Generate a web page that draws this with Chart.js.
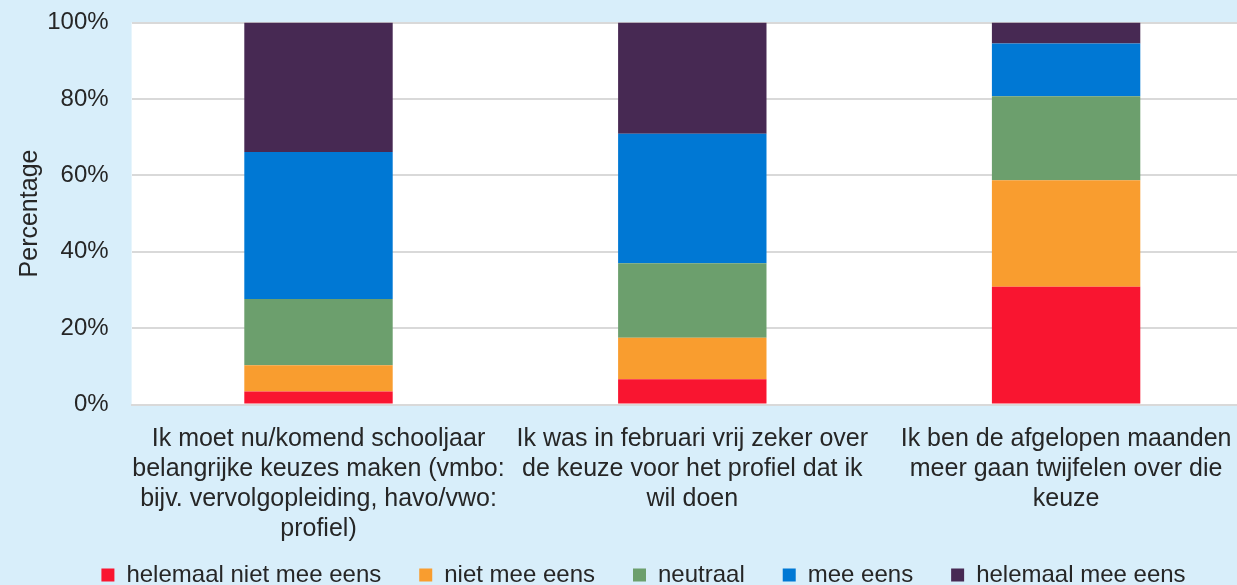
<!DOCTYPE html>
<html lang="nl">
<head>
<meta charset="utf-8">
<title>Keuzes</title>
<script src="https://cdn.jsdelivr.net/npm/chart.js@4/dist/chart.umd.min.js"></script>
<style>
  html, body {
    margin: 0;
    padding: 0;
    background: #d8eefa;
    overflow: hidden;
  }
  #wrap {
    width: 1237px;
    height: 585px;
    overflow: hidden;
  }
  #chart {
    display: block;
  }
</style>
</head>
<body>
<div id="wrap">
  <canvas id="chart" width="1287" height="614"></canvas>
</div>
<script>
// カテゴリ（複数行ラベル）
const categories = [
  ['Ik moet nu/komend schooljaar', 'belangrijke keuzes maken (vmbo:', 'bijv. vervolgopleiding, havo/vwo:', 'profiel)'],
  ['Ik was in februari vrij zeker over', 'de keuze voor het profiel dat ik', 'wil doen'],
  ['Ik ben de afgelopen maanden', 'meer gaan twijfelen over die', 'keuze']
];

// 系列名
const seriesLabels = ['helemaal niet mee eens', 'niet mee eens', 'neutraal', 'mee eens', 'helemaal mee eens'];

// 値（%）
const helemaalNietMeeEens = [3.4, 6.6, 30.8];
const nietMeeEens = [6.9, 10.9, 27.9];
const neutraal = [17.3, 19.5, 22.0];
const meeEens = [38.5, 33.9, 13.8];
const helemaalMeeEens = [33.9, 29.1, 5.5];

// 目盛り
const yTicks = [0, 20, 40, 60, 80, 100];

const seriesValues = [helemaalNietMeeEens, nietMeeEens, neutraal, meeEens, helemaalMeeEens];
const seriesColors = ['#f91530', '#f99d2f', '#6c9f6d', '#0078d4', '#472953'];

const FONT = '"Liberation Sans", Arial, Helvetica, sans-serif';
const TEXT_COLOR = '#262626';

// プロットエリアを白で塗る
const plotBackground = {
  id: 'plotBackground',
  beforeDraw(chart) {
    const { ctx, chartArea } = chart;
    ctx.save();
    ctx.fillStyle = '#ffffff';
    ctx.fillRect(chartArea.left, chartArea.top, chartArea.right - chartArea.left, chartArea.bottom - chartArea.top);
    ctx.restore();
  }
};

// 凡例の位置調整（元の図は右側が切れている）
const legendShift = {
  id: 'legendShift',
  afterLayout(chart) {
    const legend = chart.legend;
    legend.left += 17;
    legend.right += 17;
    legend.top = 525;
    legend.bottom = legend.top + legend.height;
  }
};

const datasets = seriesLabels.map((label, i) => ({
  label: label,
  data: seriesValues[i],
  backgroundColor: seriesColors[i],
  borderWidth: 0,
  barPercentage: 0.397,
  categoryPercentage: 1.0
}));

new Chart(document.getElementById('chart'), {
  type: 'bar',
  data: {
    labels: categories,
    datasets: datasets
  },
  options: {
    responsive: false,
    animation: false,
    layout: {
      padding: { top: 22.5, left: 0, right: 34, bottom: 0 }
    },
    plugins: {
      legend: {
        position: 'bottom',
        labels: {
          boxWidth: 13,
          boxHeight: 13,
          padding: 38,
          color: TEXT_COLOR,
          font: { family: FONT, size: 24 }
        }
      },
      tooltip: { enabled: false }
    },
    scales: {
      x: {
        stacked: true,
        grid: { display: false },
        border: { display: true, color: '#d9d9d9', width: 2 },
        ticks: {
          color: TEXT_COLOR,
          padding: 11.5,
          maxRotation: 0,
          autoSkip: false,
          font: { family: FONT, size: 25, lineHeight: 1.2 }
        },
        afterFit(scale) {
          scale.height = 137.5;
        }
      },
      y: {
        stacked: true,
        min: 0,
        max: 100,
        afterBuildTicks(scale) {
          scale.ticks = yTicks.map(v => ({ value: v }));
        },
        grid: {
          color: '#d9d9d9',
          lineWidth: 2,
          drawTicks: false
        },
        border: { display: false },
        ticks: {
          color: TEXT_COLOR,
          padding: 23,
          font: { family: FONT, size: 24 },
          callback: v => v + '%'
        },
        title: {
          display: true,
          text: 'Percentage',
          color: TEXT_COLOR,
          padding: { top: 15, bottom: 0 },
          font: { family: FONT, size: 25 }
        },
        afterFit(scale) {
          scale.width = 131.6;
          scale.paddingTop = 0;
          scale.paddingBottom = 0;
        }
      }
    }
  },
  plugins: [plotBackground, legendShift]
});
</script>
</body>
</html>
